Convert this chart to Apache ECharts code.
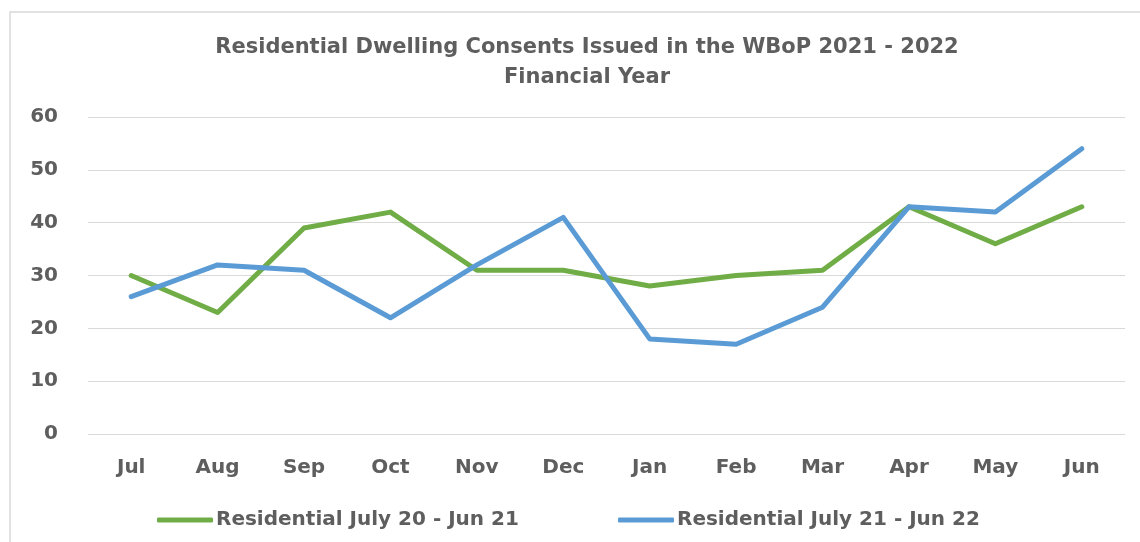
<!DOCTYPE html>
<html><head><meta charset="utf-8">
<script src="https://cdn.jsdelivr.net/npm/echarts@6/dist/echarts.min.js"></script>
<style>html,body{margin:0;padding:0;background:#fff}#c{width:1140px;height:542px}</style>
</head><body><div id="c"></div>
<script>
const categories = ['Jul','Aug','Sep','Oct','Nov','Dec','Jan','Feb','Mar','Apr','May','Jun'];
const series2021 = [30, 23, 39, 42, 31, 31, 28, 30, 31, 43, 36, 43];
const series2122 = [26, 32, 31, 22, 32, 41, 18, 17, 24, 43, 42, 54];
const seriesNames = ['Residential July 20 - Jun 21', 'Residential July 21 - Jun 22'];
const titleText = 'Residential Dwelling Consents Issued in the WBoP 2021 - 2022\nFinancial Year';

const FONT = '"DejaVu Sans", sans-serif';
const TXT = '#5e5e5e';
const legendText = { fontFamily: FONT, fontSize: 20, fontWeight: 'bold', color: TXT, padding: [0, 0, 0, -2] };
const chart = echarts.init(document.getElementById('c'));
chart.setOption({
  animation: false,
  backgroundColor: '#fff',
  graphic: [{
    type: 'rect', shape: { x: 10, y: 12, width: 1300, height: 700 },
    style: { fill: 'none', stroke: '#d9d9d9', lineWidth: 1.5 }, silent: true
  }],
  title: {
    text: titleText, left: 582, textAlign: 'center', top: 28,
    textStyle: { fontFamily: FONT, fontSize: 21, fontWeight: 'bold', color: TXT, lineHeight: 30 }
  },
  legend: [
    { left: 152, top: 505, itemWidth: 56, itemHeight: 5, icon: 'roundRect',
      textStyle: legendText, data: [seriesNames[0]] },
    { left: 613, top: 505, itemWidth: 56, itemHeight: 5, icon: 'roundRect',
      textStyle: legendText, data: [seriesNames[1]] }
  ],
  grid: { left: 88, right: 15, top: 117, bottom: 108, containLabel: false },
  xAxis: {
    type: 'category', data: categories, boundaryGap: true,
    axisLine: { show: false }, axisTick: { show: false },
    axisLabel: { fontFamily: FONT, fontSize: 20, fontWeight: 'bold', color: TXT, margin: 24 }
  },
  yAxis: {
    type: 'value', min: 0, max: 60, interval: 10,
    axisLine: { show: false }, axisTick: { show: false },
    axisLabel: { fontFamily: FONT, fontSize: 20, fontWeight: 'bold', color: TXT, margin: 30 },
    splitLine: { lineStyle: { color: '#d9d9d9', width: 1.2 } }
  },
  series: [
    { name: seriesNames[0], type: 'line', data: series2021, symbol: 'none',
      lineStyle: { color: '#70ad47', width: 5, cap: 'round', join: 'round' }, itemStyle: { color: '#70ad47' } },
    { name: seriesNames[1], type: 'line', data: series2122, symbol: 'none',
      lineStyle: { color: '#5b9bd5', width: 5, cap: 'round', join: 'round' }, itemStyle: { color: '#5b9bd5' } }
  ]
});
</script></body></html>
